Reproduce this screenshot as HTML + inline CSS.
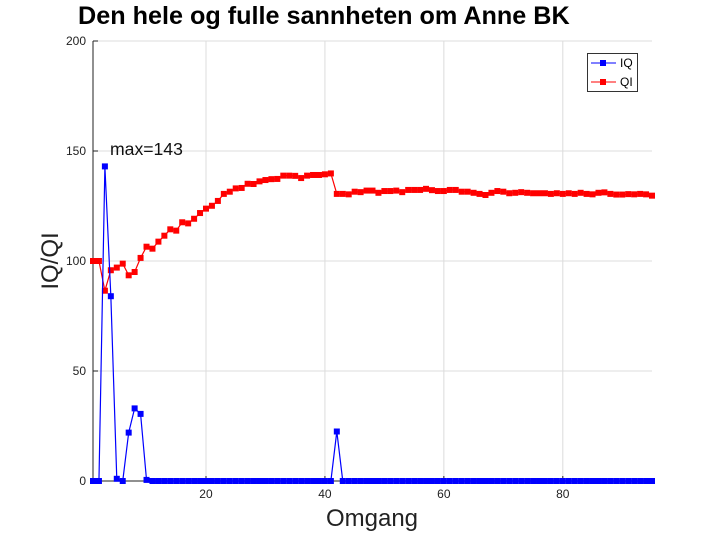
<!DOCTYPE html>
<html><head><meta charset="utf-8"><style>
body{margin:0;background:#fff;}
svg{display:block;font-family:"Liberation Sans",sans-serif;}
</style></head><body>
<svg id="chart" width="720" height="540">
<text x="78" y="24" font-size="25.2" font-weight="bold">Den hele og fulle sannheten om Anne BK</text>
<g id="grid"></g>
<g id="axes"></g>
<g id="series"></g>
<text x="372" y="526" font-size="24" text-anchor="middle" fill="#222">Omgang</text>
<text transform="translate(58,261) rotate(-90)" font-size="24" text-anchor="middle" fill="#222">IQ/QI</text>
<text x="110" y="155" font-size="17.6" fill="#111">max=143</text>
<g>
<rect x="587.5" y="53.5" width="50" height="38" fill="#fff" stroke="#333" stroke-width="1"/>
<line x1="591" y1="63" x2="616" y2="63" stroke="#00f"/><rect x="600" y="60" width="6" height="6" fill="#00f"/>
<text x="620" y="67" font-size="12">IQ</text>
<line x1="591" y1="82" x2="616" y2="82" stroke="#f00"/><rect x="600" y="79" width="6" height="6" fill="#f00"/>
<text x="620" y="86" font-size="12">QI</text>
</g>
</svg>
<script>
const iqValues=[0,0,143,84,1,0,22,33,30.5,0.5,0,0,0,0,0,0,0,0,0,0,0,0,0,0,0,0,0,0,0,0,0,0,0,0,0,0,0,0,0,0,0,22.5,0,0,0,0,0,0,0,0,0,0,0,0,0,0,0,0,0,0,0,0,0,0,0,0,0,0,0,0,0,0,0,0,0,0,0,0,0,0,0,0,0,0,0,0,0,0,0,0,0,0,0,0,0];
const qiValues=[100,100,86.5,95.8,97,98.8,93.5,95,101.4,106.5,105.6,108.8,111.5,114.4,113.8,117.6,117.1,119.2,121.8,123.8,125.1,127.3,130.5,131.5,133,133.2,135.1,135,136.2,136.8,137.2,137.3,138.8,138.8,138.7,137.7,138.8,139.1,139.1,139.4,139.8,
130.5,130.5,130.3,131.5,131.3,132,132,131,131.8,131.8,132,131.3,132.3,132.3,132.3,132.8,132.2,131.8,131.8,132.3,132.3,131.5,131.5,131,130.5,130,131,131.8,131.5,130.8,131,131.3,131,130.8,130.8,130.8,130.5,130.8,130.5,130.8,130.5,131,130.5,130.3,131,131.2,130.5,130.2,130.2,130.4,130.3,130.5,130.3,129.7];
const xTicks=[20,40,60,80];
const yTicks=[0,50,100,150,200];
const NS="http://www.w3.org/2000/svg";
const X0=1,X1=95,Y0=0,Y1=200,L=93,R=652,T=41,B=481;
const sx=v=>L+(v-X0)/(X1-X0)*(R-L);
const sy=v=>B-(v-Y0)/(Y1-Y0)*(B-T);
function mk(tag,attrs,parent){const e=document.createElementNS(NS,tag);for(const k in attrs)e.setAttribute(k,attrs[k]);parent.appendChild(e);return e;}
const grid=document.getElementById('grid'),axes=document.getElementById('axes'),ser=document.getElementById('series');
xTicks.forEach(t=>{const l=mk('line',{x1:sx(t),x2:sx(t),y1:T,y2:B,stroke:'#dcdcdc'},grid);


mk('line',{x1:sx(t),x2:sx(t),y1:B,y2:B-5,stroke:'#222'},axes);
const tx=mk('text',{x:sx(t),y:B+17,'font-size':12,'text-anchor':'middle',fill:'#222'},axes);tx.textContent=t;

});
yTicks.forEach(t=>{if(t>0){const l=mk('line',{x1:L,x2:R,y1:sy(t),y2:sy(t),stroke:'#dcdcdc'},grid);

}
mk('line',{x1:L,x2:L+5,y1:sy(t),y2:sy(t),stroke:'#222'},axes);
const tx=mk('text',{x:L-7,y:sy(t)+4,'font-size':12,'text-anchor':'end',fill:'#222'},axes);tx.textContent=t;

});
const ax=mk('path',{d:`M${L},${T} V${B} H${R}`,fill:'none',stroke:'#222'},axes);


function series(vals,color,name){
 const pts=vals.map((v,i)=>sx(i+1)+','+sy(v)).join(' ');
 const pl=mk('polyline',{points:pts,fill:'none',stroke:color,'stroke-width':1.2},ser);
 
 
 vals.forEach((v,i)=>{const r=mk('rect',{x:sx(i+1)-3,y:sy(v)-3,width:6,height:6,fill:color},ser);
 
 });
}
series(qiValues,'#f00','qi');
series(iqValues,'#00f','iq');
</script>
</body></html>
